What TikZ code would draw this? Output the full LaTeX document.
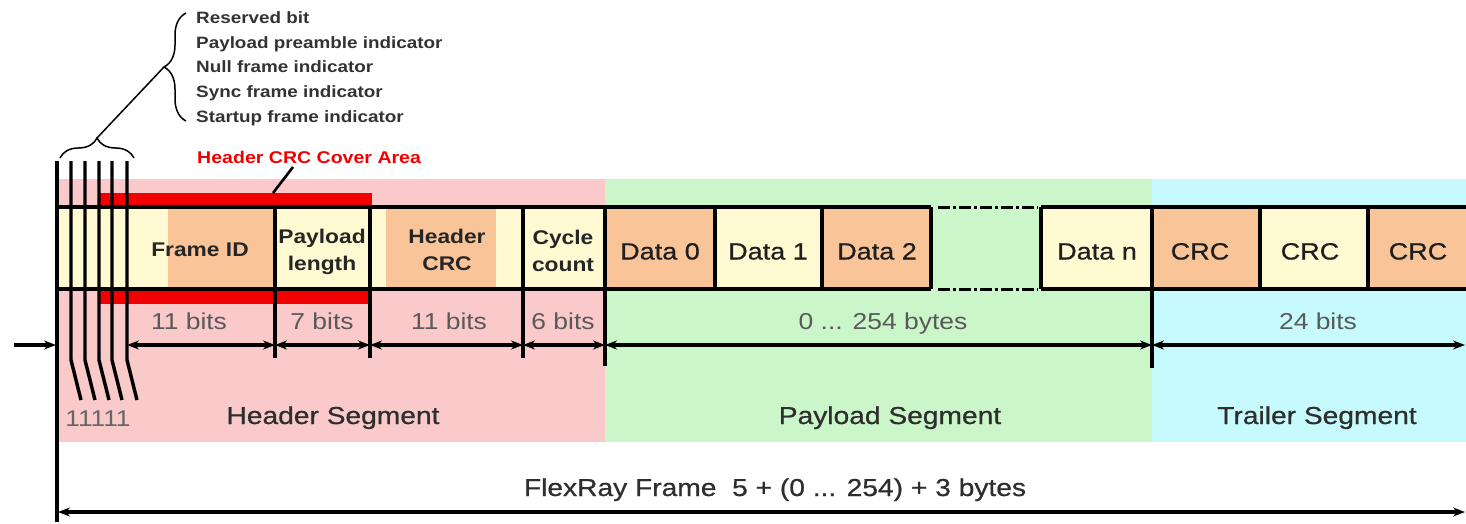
\documentclass[tikz,border=0pt]{standalone}
\usepackage{fontspec}
\setmainfont{Liberation Sans}[FakeStretch=1.15]
\newfontfamily\medfont{Liberation Sans}[FakeStretch=1.15, FakeBold=0.7]
\usetikzlibrary{arrows.meta,decorations.pathreplacing}

\definecolor{hdrbg}{RGB}{250,202,202}
\definecolor{paybg}{RGB}{202,246,202}
\definecolor{trlbg}{RGB}{198,250,252}
\definecolor{cellorg}{RGB}{248,196,152}
\definecolor{cellyel}{RGB}{255,250,210}
\definecolor{covred}{RGB}{240,0,0}

\begin{document}
\begin{tikzpicture}[x=1pt,y=-1pt,
  rule/.style={line width=3.4pt},
  gapline/.style={line width=3pt, dash pattern=on 12pt off 3pt on 3pt off 3pt},
  dimarrow/.style={line width=3.2pt, {Stealth[length=12pt,width=9pt]}-{Stealth[length=12pt,width=9pt]}},
  inarrow/.style={line width=3.2pt, -{Stealth[length=12pt,width=9pt]}},
  bracket/.style={line width=1.5pt, decorate},
  toplbl/.style={anchor=base west, inner sep=0pt, font=\fontsize{16.4}{20}\selectfont\bfseries, text=black!80},
  coverlbl/.style={anchor=base west, inner sep=0pt, font=\fontsize{17}{20}\selectfont\bfseries, text=covred},
  boldlbl/.style={inner sep=0pt, align=center, font=\fontsize{19.8}{27}\selectfont\bfseries, text=black!85},
  datalbl/.style={anchor=base, inner sep=0pt, font=\fontsize{23.5}{28}\selectfont\medfont, text=black!88},
  sizelbl/.style={anchor=base, inner sep=0pt, font=\fontsize{23}{28}\selectfont, text=black!65},
  seglbl/.style={anchor=base, inner sep=0pt, font=\fontsize{24.5}{29}\selectfont\medfont, text=black!82},
  bitlbl/.style={anchor=base, inner sep=0pt, font=\fontsize{22.8}{27}\selectfont, text=black!60}
]
\useasboundingbox (0,0) rectangle (1466,524);

% segment backgrounds
\fill[hdrbg] (57,179) rectangle (605,442);
\fill[paybg] (605,179) rectangle (1152,442);
\fill[trlbg] (1152,179) rectangle (1466,442);

% header CRC cover area bars
\fill[covred] (98,193) rectangle (372,207);
\fill[covred] (98,289) rectangle (368,304);

% field fills
\fill[cellyel] (57,207) rectangle (168,289);
\fill[cellorg] (168,207) rectangle (275,289);
\fill[cellyel] (275,207) rectangle (386,289);
\fill[cellorg] (386,207) rectangle (496,289);
\fill[cellyel] (496,207) rectangle (605,289);
\fill[cellorg] (605,207) rectangle (715,289);
\fill[cellyel] (715,207) rectangle (822,289);
\fill[cellorg] (822,207) rectangle (931,289);
\fill[cellyel] (1041,207) rectangle (1152,289);
\fill[cellorg] (1152,207) rectangle (1260,289);
\fill[cellyel] (1260,207) rectangle (1368,289);
\fill[cellorg] (1368,207) rectangle (1466,289);

% frame outline
\draw[rule] (57,207) -- (931,207) (1041,207) -- (1466,207);
\draw[rule] (57,289) -- (931,289) (1041,289) -- (1466,289);
\draw[gapline] (938,207) -- (1038,207) (938,289) -- (1038,289);

% field dividers
\foreach \x in {715,822,931,1041,1260,1368} \draw[rule] (\x,207) -- (\x,289);
\foreach \x in {275,370,523} \draw[rule] (\x,207) -- (\x,358);
\draw[rule] (605,207) -- (605,366);
\draw[rule] (1152,207) -- (1152,368);

% frame start and the five indicator bits
\draw[rule] (57,161) -- (57,522);
\foreach \x in {71,85,99,112,127} \draw[rule] (\x,161) -- (\x,360) -- (\x+10,400);

% field labels
\node[boldlbl] (fid) at (200,250) {Frame ID};
\node[boldlbl] (plen) at (322,252) {Payload\\length};
\node[boldlbl] (hcrc) at (447,250) {Header\\CRC};
\node[boldlbl] (cyc) at (563,251) {Cycle\\count};
\node[datalbl] (d0) at (660,259.5) {Data 0};
\node[datalbl] (d1) at (768,259.5) {Data 1};
\node[datalbl] (d2) at (877,259.5) {Data 2};
\node[datalbl] (dn) at (1097,259.5) {Data n};
\node[datalbl] (crc1) at (1200,259.5) {CRC};
\node[datalbl] (crc2) at (1310,259.5) {CRC};
\node[datalbl] (crc3) at (1418,259.5) {CRC};

% field sizes
\node[sizelbl] (s1) at (189,329) {11 bits};
\node[sizelbl] (s2) at (322,329) {7 bits};
\node[sizelbl] (s3) at (449,329) {11 bits};
\node[sizelbl] (s4) at (563,329) {6 bits};
\node[sizelbl] (s5) at (883,329) {0 ... 254 bytes};
\node[sizelbl] (s6) at (1318,329) {24 bits};

% dimension arrows
\coordinate (a0) at (127,345);
\coordinate (a1) at (275,345);
\coordinate (a2) at (370,345);
\coordinate (a3) at (523,345);
\coordinate (a4) at (605,345);
\coordinate (a5) at (1152,345);
\coordinate (a6) at (1465,345);
\draw[dimarrow] (a0) -- (a1);
\draw[dimarrow] (a1) -- (a2);
\draw[dimarrow] (a2) -- (a3);
\draw[dimarrow] (a3) -- (a4);
\draw[dimarrow] (a4) -- (a5);
\draw[dimarrow] (a5) -- (a6);
\coordinate (lin) at (14,345);
\coordinate (lstart) at (56,345);
\draw[inarrow] (lin) -- (lstart);

% segment names
\node[bitlbl] (bits) at (98,426) {11111};
\node[seglbl] (hseg) at (333,424) {Header Segment};
\node[seglbl] (pseg) at (890,424) {Payload Segment};
\node[seglbl] (tseg) at (1317,424) {Trailer Segment};

% whole frame
\node[seglbl] (frame) at (775,496) {FlexRay Frame\ \ 5 + (0 ... 254) + 3 bytes};
\coordinate (f0) at (58,512);
\coordinate (f1) at (1465,512);
\draw[dimarrow] (f0) -- (f1);

% indicator bit legend
\node[toplbl] (rb) at (196,24) {Reserved bit};
\node[toplbl] (ppi) at (196,48.5) {Payload preamble indicator};
\node[toplbl] (nfi) at (196,73) {Null frame indicator};
\node[toplbl] (sfi) at (196,97.5) {Sync frame indicator};
\node[toplbl] (sti) at (196,122) {Startup frame indicator};
\draw[bracket, decoration={brace, amplitude=22pt}] (186,121) -- (186,13);
\draw[bracket, decoration={brace, amplitude=20pt}] (60,158) -- (134,158);
\coordinate (legtip) at (164,67);
\coordinate (bittip) at (97,138);
\draw[line width=1.5pt] (legtip) -- (bittip);

% header CRC cover area callout
\node[coverlbl] (cover) at (197,163) {Header CRC Cover Area};
\coordinate (covfrom) at (293,167);
\coordinate (covto) at (273,193);
\draw[line width=2.6pt] (covfrom) -- (covto);
\end{tikzpicture}
\end{document}
